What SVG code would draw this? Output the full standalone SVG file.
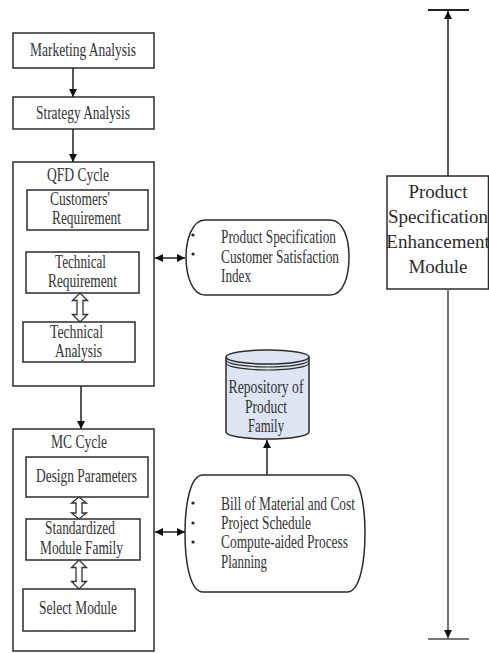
<svg xmlns="http://www.w3.org/2000/svg" width="489" height="653" viewBox="0 0 489 653">
  <style>
    .box { fill: #ffffff; stroke: #2b2b2b; stroke-width: 1.5; }
    .lbl { font-family: "Liberation Serif", "Times New Roman", serif; font-size: 18px; fill: #333333; }
    .c { text-anchor: middle; }
    .big { font-family: "Liberation Serif", "Times New Roman", serif; font-size: 19px; fill: #2b2b2b; text-anchor: middle; }
    .wire { stroke: #222222; stroke-width: 1.5; fill: none; }
    .hollow { fill: #ffffff; stroke: #333333; stroke-width: 1.3; stroke-linejoin: miter; }
    .dot { fill: #222222; }
  </style>
  <defs>
    <marker id="ah" viewBox="0 0 8 8" refX="8" refY="4" markerWidth="8" markerHeight="8" markerUnits="userSpaceOnUse" orient="auto-start-reverse">
      <path d="M0,0 L8,4 L0,8 z" fill="#111111"/>
    </marker>
    <marker id="ahg" viewBox="0 0 8 8" refX="8" refY="4" markerWidth="8" markerHeight="8" markerUnits="userSpaceOnUse" orient="auto-start-reverse">
      <path d="M0,0 L8,4 L0,8 z" fill="#111111"/>
    </marker>
  </defs>

  <!-- left column: analysis steps -->
  <g id="marketing-analysis">
    <rect class="box" x="13" y="33" width="141" height="35"/>
    <text class="lbl c" x="83" y="56" textLength="106" lengthAdjust="spacingAndGlyphs">Marketing Analysis</text>
  </g>
  <g id="strategy-analysis">
    <rect class="box" x="13" y="97" width="141" height="32"/>
    <text class="lbl c" x="83" y="119" textLength="94" lengthAdjust="spacingAndGlyphs">Strategy Analysis</text>
  </g>

  <g id="qfd-cycle">
    <rect class="box" x="13" y="162" width="141" height="224"/>
    <text class="lbl c" x="78" y="181" textLength="62" lengthAdjust="spacingAndGlyphs">QFD Cycle</text>
  </g>
  <g id="customers-requirement">
    <rect class="box" x="27" y="190" width="121" height="40"/>
    <text class="lbl c" x="80" y="205" textLength="60" lengthAdjust="spacingAndGlyphs">Customers'</text>
    <text class="lbl c" x="86.5" y="224" textLength="69" lengthAdjust="spacingAndGlyphs">Requirement</text>
  </g>
  <g id="technical-requirement">
    <rect class="box" x="26" y="252" width="113" height="41"/>
    <text class="lbl c" x="80.5" y="268" textLength="51" lengthAdjust="spacingAndGlyphs">Technical</text>
    <text class="lbl c" x="82.5" y="287" textLength="69" lengthAdjust="spacingAndGlyphs">Requirement</text>
  </g>
  <g id="technical-analysis">
    <rect class="box" x="23" y="322" width="112" height="40"/>
    <text class="lbl c" x="76.5" y="338" textLength="53" lengthAdjust="spacingAndGlyphs">Technical</text>
    <text class="lbl c" x="78.5" y="357" textLength="47" lengthAdjust="spacingAndGlyphs">Analysis</text>
  </g>

  <g id="mc-cycle">
    <rect class="box" x="13" y="429" width="141" height="222"/>
    <text class="lbl c" x="79" y="448" textLength="56" lengthAdjust="spacingAndGlyphs">MC Cycle</text>
  </g>
  <g id="design-parameters">
    <rect class="box" x="26" y="457" width="122" height="40"/>
    <text class="lbl c" x="86.5" y="482" textLength="101" lengthAdjust="spacingAndGlyphs">Design Parameters</text>
  </g>
  <g id="standardized-module-family">
    <rect class="box" x="26" y="519" width="114" height="41"/>
    <text class="lbl c" x="80" y="534" textLength="70" lengthAdjust="spacingAndGlyphs">Standardized</text>
    <text class="lbl c" x="81.5" y="554" textLength="83" lengthAdjust="spacingAndGlyphs">Module Family</text>
  </g>
  <g id="select-module">
    <rect class="box" x="23" y="589" width="112" height="42"/>
    <text class="lbl c" x="78" y="614" textLength="78" lengthAdjust="spacingAndGlyphs">Select Module</text>
  </g>

  <!-- middle column: outputs and repository -->
  <g id="qfd-outputs">
    <path class="box" d="M205,220 H330 C344,220 349,240 349,257 C349,275 344,295 330,295 H205 C192,295 186,275 186,257 C186,240 192,220 205,220 Z"/>
    <circle class="dot" cx="193" cy="235" r="1.6"/>
    <circle class="dot" cx="193" cy="254" r="1.6"/>
    <text class="lbl" x="221" y="243" textLength="115" lengthAdjust="spacingAndGlyphs">Product Specification</text>
    <text class="lbl" x="221" y="263" textLength="118" lengthAdjust="spacingAndGlyphs">Customer Satisfaction</text>
    <text class="lbl" x="221" y="282" textLength="30" lengthAdjust="spacingAndGlyphs">Index</text>
  </g>

  <g id="product-family-repository">
    <path d="M226,357 V432 A41.5,7 0 0 0 309,432 V357" fill="#dde5f2" stroke="#2b2b2b" stroke-width="1.5"/>
    <ellipse cx="267.5" cy="357" rx="41.5" ry="7" fill="#dde5f2" stroke="#2b2b2b" stroke-width="1.5"/>
    <path d="M226,360 A41.5,7 0 0 0 309,360" fill="none" stroke="#2b2b2b" stroke-width="1.2"/>
    <path d="M226,363 A41.5,7 0 0 0 309,363" fill="none" stroke="#2b2b2b" stroke-width="1.2"/>
    <text class="lbl c" x="266" y="393" textLength="75" lengthAdjust="spacingAndGlyphs">Repository of</text>
    <text class="lbl c" x="266" y="413" textLength="42" lengthAdjust="spacingAndGlyphs">Product</text>
    <text class="lbl c" x="266" y="432" textLength="36" lengthAdjust="spacingAndGlyphs">Family</text>
  </g>

  <g id="mc-outputs">
    <path class="box" d="M203,475 H347 C360,475 365,505 365,533 C365,562 360,592 347,592 H203 C190,592 185,562 185,533 C185,505 190,475 203,475 Z"/>
    <circle class="dot" cx="193" cy="503" r="1.6"/>
    <circle class="dot" cx="193" cy="523" r="1.6"/>
    <circle class="dot" cx="193" cy="542" r="1.6"/>
    <text class="lbl" x="221" y="510" textLength="134" lengthAdjust="spacingAndGlyphs">Bill of Material and Cost</text>
    <text class="lbl" x="221" y="529" textLength="90" lengthAdjust="spacingAndGlyphs">Project Schedule</text>
    <text class="lbl" x="221" y="548" textLength="127" lengthAdjust="spacingAndGlyphs">Compute-aided Process</text>
    <text class="lbl" x="221" y="568" textLength="46" lengthAdjust="spacingAndGlyphs">Planning</text>
  </g>

  <!-- right column: enhancement module -->
  <g id="enhancement-module">
    <rect class="box" x="387" y="176" width="101.5" height="113"/>
    <text class="big" x="438" y="198">Product</text>
    <text class="big" x="438" y="223">Specification</text>
    <text class="big" x="438" y="248">Enhancement</text>
    <text class="big" x="438" y="273">Module</text>
  </g>

  <g id="connectors">
    <line class="wire" x1="73" y1="68" x2="73" y2="97" marker-end="url(#ah)"/>
    <line class="wire" x1="73" y1="129" x2="73" y2="162" marker-end="url(#ah)"/>
    <line class="wire" x1="81" y1="386" x2="81" y2="429" marker-end="url(#ah)"/>
    <line class="wire" x1="155" y1="258" x2="185" y2="258" marker-start="url(#ah)" marker-end="url(#ah)"/>
    <line class="wire" x1="155" y1="532" x2="185" y2="532" marker-start="url(#ah)" marker-end="url(#ah)"/>
    <line class="wire" x1="267" y1="475" x2="267" y2="440" marker-end="url(#ah)"/>
    <polygon class="hollow" points="80,293 87.5,300.5 83,300.5 83,314.5 87.5,314.5 80,322 72.5,314.5 77,314.5 77,300.5 72.5,300.5"/>
    <polygon class="hollow" points="79,497 86.5,503 82,503 82,513 86.5,513 79,519 71.5,513 76,513 76,503 71.5,503"/>
    <polygon class="hollow" points="79,560 86.5,567.5 82,567.5 82,581.5 86.5,581.5 79,589 71.5,581.5 76,581.5 76,567.5 71.5,567.5"/>
    <line x1="428" y1="10" x2="469" y2="10" stroke="#222222" stroke-width="1.8"/>
    <line class="wire" x1="448" y1="176" x2="448" y2="11" marker-end="url(#ah)"/>
    <line x1="448" y1="289" x2="448" y2="638" stroke="#666666" stroke-width="1.8" marker-end="url(#ahg)"/>
    <line x1="428" y1="639" x2="469" y2="639" stroke="#777777" stroke-width="2"/>
  </g>
</svg>
